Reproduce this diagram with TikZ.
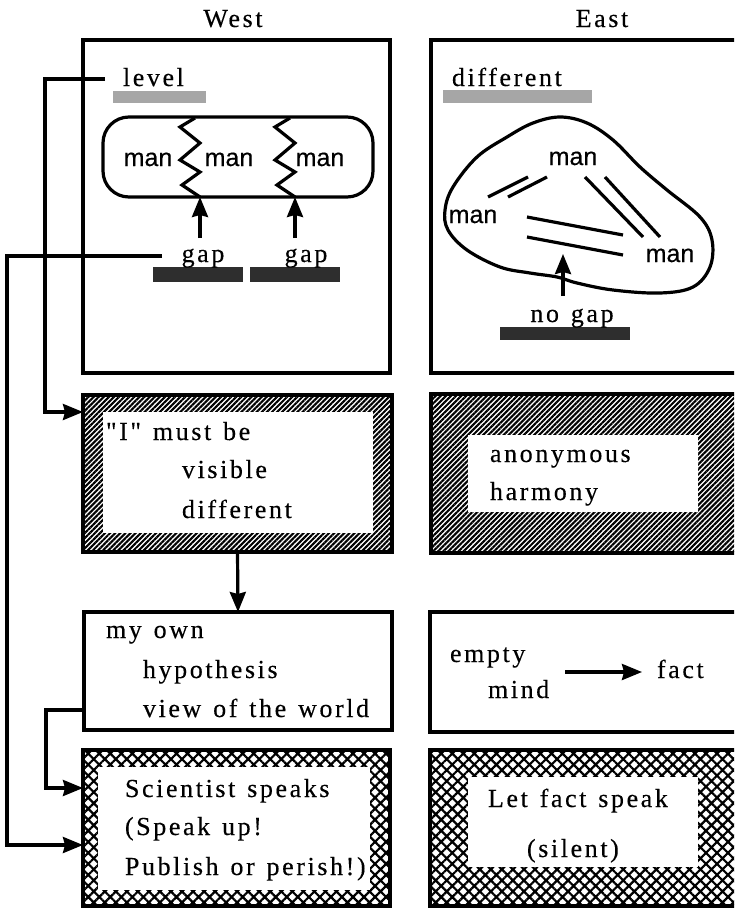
\documentclass[tikz,border=0pt]{standalone}
\usepackage{fontspec}
\setmainfont{Liberation Serif}[LetterSpace=10,WordSpace=1.3,Ligatures=TeXOff,FakeBold=0.3]
\newfontfamily\mansans{Liberation Sans}[FakeBold=0.4]
\usetikzlibrary{arrows.meta,patterns.meta}

\begin{document}
\begin{tikzpicture}[x=1pt,y=-1pt,
  every node/.style={inner sep=0pt, outer sep=0pt},
  txt/.style={anchor=base west, font=\fontsize{26}{30}\selectfont},
  ctxt/.style={anchor=base, font=\fontsize{26}{30}\selectfont},
  mantxt/.style={anchor=base, font=\mansans\fontsize{25}{28}\selectfont},
  panel/.style={draw, line width=3.4pt, anchor=north west},
  hatchpanel/.style={panel, pattern={Lines[angle=45,distance=3.6pt,line width=2.1pt]}},
  crosspanel/.style={panel, pattern={Hatch[angle=45,distance=7.8pt,line width=2.2pt]}},
  clearing/.style={fill=white, anchor=north west},
  lightbar/.style={fill=black!35, anchor=north west},
  darkbar/.style={fill=black!82, anchor=north west},
  wire/.style={line width=3.2pt},
  arrowwire/.style={line width=3.2pt, -{Stealth[length=20pt,width=16pt,inset=2pt]}},
]
\useasboundingbox (0,0) rectangle (734,908);
\clip (0,0) rectangle (734,908);

% column headings
\node[ctxt] (west) at (233,27) {West};
\node[ctxt] (east) at (602,27) {East};

% ---------- top panels ----------
\node[panel, minimum width=307pt, minimum height=333pt] (wtop) at (83,40) {};
\node[panel, minimum width=330pt, minimum height=333pt] (etop) at (431,40) {};

% West: level
\node[lightbar, minimum width=93pt, minimum height=12pt] (lvlbar) at (113,91) {};
\node[txt] (level) at (123,86) {level};

% West: row of men separated by gaps
\node[draw, line width=3.2pt, rounded corners=26pt, minimum width=270pt,
      minimum height=80pt, anchor=north west] (row) at (103,117) {};
\node[mantxt] (man1) at (148,166) {man};
\node[mantxt] (man2) at (229,166) {man};
\node[mantxt] (man3) at (320,166) {man};
\draw[wire] (195,118) -- (180,127) -- (200,143) -- (180,160) -- (200,172) -- (182,185) -- (200,197);
\draw[wire] (290,118) -- (275,127) -- (295,143) -- (275,160) -- (295,172) -- (277,185) -- (295,197);
\coordinate (zz1) at (200,197);
\coordinate (zz2) at (295,197);
\coordinate (g1src) at (200,238);
\coordinate (g2src) at (295,238);
\draw[arrowwire] (g1src) -- (zz1);
\draw[arrowwire] (g2src) -- (zz2);

\node[darkbar, minimum width=90pt, minimum height=15pt] (gapbar1) at (153,267) {};
\node[darkbar, minimum width=90pt, minimum height=15pt] (gapbar2) at (250,267) {};
\node[ctxt] (gap1) at (203,262) {gap};
\node[ctxt] (gap2) at (306,262) {gap};

% East: different
\node[lightbar, minimum width=149pt, minimum height=13pt] (difbar) at (443,90) {};
\node[txt] (diff) at (452,86) {different};

% East: men joined in one body
\draw[line width=3.2pt] plot[smooth cycle, tension=0.6] coordinates {
  (560,117) (587,123) (613,140) (640,167) (667,190) (700,217) (712,240)
  (710,267) (693,287) (660,293) (613,290) (577,283) (557,277) (530,273)
  (500,267) (467,250) (448,230) (445,210) (453,187) (477,157) (507,137) (533,123)};
\node[mantxt] (eman1) at (573,165) {man};
\node[mantxt] (eman2) at (473,223) {man};
\node[mantxt] (eman3) at (670,262) {man};
\draw[wire] (488,197) -- (528,177);
\draw[wire] (508,197) -- (547,177);
\draw[wire] (585,177) -- (643,237);
\draw[wire] (605,177) -- (660,237);
\draw[wire] (527,217) -- (623,235);
\draw[wire] (527,237) -- (623,255);
\coordinate (ngsrc) at (563,296);
\coordinate (ngtip) at (563,254);
\draw[arrowwire] (ngsrc) -- (ngtip);
\node[darkbar, minimum width=130pt, minimum height=13pt] (ngbar) at (500,327) {};
\node[ctxt] (nogap) at (572,322) {no gap};

% ---------- second row: hatched panels ----------
\node[hatchpanel, minimum width=309pt, minimum height=157pt] (iBox) at (83,395) {};
\node[clearing, minimum width=270pt, minimum height=121pt] (iClear) at (103,412) {};
\node[txt] (i1) at (106,440) {"I" must be};
\node[txt] (i2) at (182,478) {visible};
\node[txt] (i3) at (182,518) {different};

\node[hatchpanel, minimum width=330pt, minimum height=159pt] (anonBox) at (431,394) {};
\node[clearing, minimum width=230pt, minimum height=77pt] (anonClear) at (468,435) {};
\node[txt] (a1) at (490,462) {anonymous};
\node[txt] (a2) at (490,500) {harmony};

% ---------- third row ----------
\node[panel, minimum width=308pt, minimum height=118pt] (ownBox) at (84,612) {};
\node[txt] (o1) at (106,638) {my own};
\node[txt] (o2) at (143,678) {hypothesis};
\node[txt] (o3) at (143,717) {view of the world};

\node[panel, minimum width=330pt, minimum height=120pt] (emptyBox) at (430,612) {};
\node[txt] (e1) at (450,662) {empty};
\node[txt] (e2) at (488,698) {mind};
\node[txt] (fact) at (657,678) {fact};
\coordinate (mindout) at (565,672);
\coordinate (factin) at (642,672);
\draw[arrowwire] (mindout) -- (factin);

% ---------- bottom row: cross-hatched panels ----------
\node[crosspanel, minimum width=307pt, minimum height=156pt] (sciBox) at (83,750) {};
\node[clearing, minimum width=272pt, minimum height=123pt] (sciClear) at (98,767) {};
\node[txt] (s1) at (125,797) {Scientist speaks};
\node[txt] (s2) at (125,835) {(Speak up!};
\node[txt] (s3) at (125,875) {Publish or perish!)};

\node[crosspanel, minimum width=330pt, minimum height=156pt] (silentBox) at (430,750) {};
\node[clearing, minimum width=230pt, minimum height=90pt] (silentClear) at (468,777) {};
\node[txt] (l1) at (488,807) {Let fact speak};
\node[txt] (l2) at (527,857) {(silent)};

% ---------- connectors on the West side ----------
\coordinate (lvlwire) at (105,79);
\coordinate (gapwire) at (162,256);
\draw[arrowwire] (lvlwire) -- ++(-60,0) |- ([yshift=-17pt]iBox.north west);
\draw[arrowwire] (gapwire) -- ++(-155,0) |- ([yshift=-95pt]sciBox.north west);
\draw[arrowwire] (iBox.south) -- (ownBox.north);
\draw[arrowwire] ([yshift=-98pt]ownBox.north west) -- ++(-38,0) |- ([yshift=-38pt]sciBox.north west);
\end{tikzpicture}
\end{document}
